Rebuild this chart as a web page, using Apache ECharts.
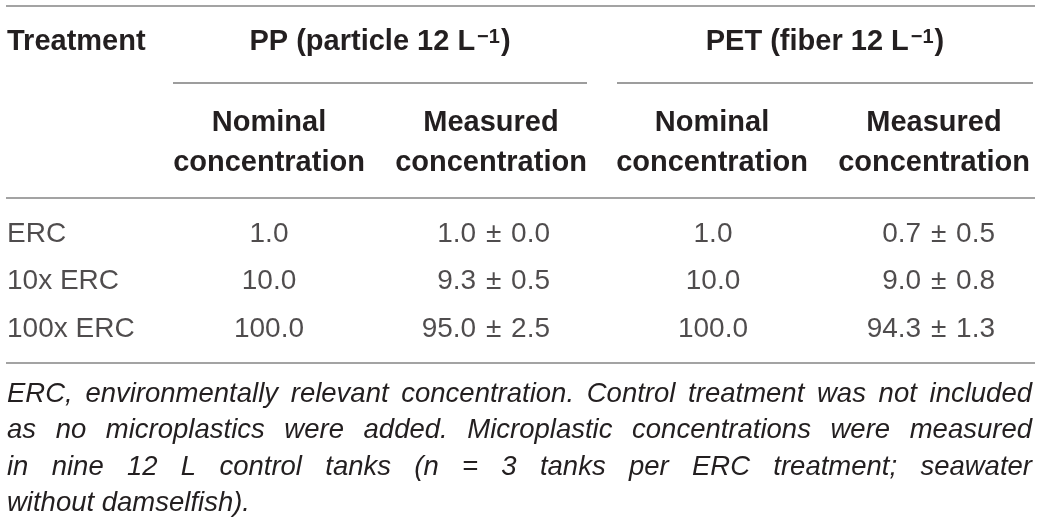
<!DOCTYPE html>
<html>
<head>
<meta charset="utf-8">
<script src="https://cdn.jsdelivr.net/npm/echarts@6/dist/echarts.min.js"></script>
<style>
html,body{margin:0;padding:0;background:#fff;}
#chart{width:1041px;height:524px;}
</style>
</head>
<body>
<div id="chart"></div>
<script>
// ---------- data ----------
const treatments = ['ERC', '10x ERC', '100x ERC'];
const ppNominal = [1.0, 10.0, 100.0];
const ppMeasuredMean = [1.0, 9.3, 95.0];
const ppMeasuredSD = [0.0, 0.5, 2.5];
const petNominal = [1.0, 10.0, 100.0];
const petMeasuredMean = [0.7, 9.0, 94.3];
const petMeasuredSD = [0.5, 0.8, 1.3];
const firstHeader = 'Treatment';
const groupHeaders = ['PP (particle 12 L', 'PET (fiber 12 L'];
const groupSup = '\u22121';
const subHeaders = [['Nominal', 'concentration'], ['Measured', 'concentration']];
const footnoteLines = [
  'ERC, environmentally relevant concentration. Control treatment was not included',
  'as no microplastics were added. Microplastic concentrations were measured',
  'in nine 12 L control tanks (n = 3 tanks per ERC treatment; seawater',
  'without damselfish).'
];

// ---------- layout / style ----------
const FONT = '"Liberation Sans", Arial, Helvetica, sans-serif';
const INK = '#231f20';
const W = 1041;
const colAnchor = [7, 269, 550, 713, 995];
const colAlign = ['left', 'center', 'right', 'center', 'right'];
const groupCenter = [380, 825];
const groupLine = [[173, 587], [617, 1033]];
const subCenter = [[269, 491], [712, 934]];

const fmt1 = v => v.toFixed(1);

const columns = [
  treatments.map(t => t),
  ppNominal.map(fmt1),
  ppMeasuredMean.map((m, i) => fmt1(m) + ' {pm|\u00b1} ' + fmt1(ppMeasuredSD[i])),
  petNominal.map(fmt1),
  petMeasuredMean.map((m, i) => fmt1(m) + ' {pm|\u00b1} ' + fmt1(petMeasuredSD[i]))
];

const series = columns.map((col, c) => ({
  type: 'scatter',
  silent: true,
  symbolSize: 0.1,
  itemStyle: { color: 'rgba(0,0,0,0)' },
  data: treatments.map((t, i) => ({ value: [colAnchor[c], t], txt: col[i] })),
  label: {
    show: true,
    position: 'inside',
    align: colAlign[c],
    verticalAlign: 'middle',
    formatter: p => p.data.txt,
    color: INK,
    fontFamily: FONT,
    fontSize: 28,
    fontWeight: 'normal',
    rich: { pm: { fontFamily: FONT, fontSize: 28, color: INK, padding: [0, 2, 0, 2] } }
  }
}));

// ---------- graphic: headers, rules, footnote ----------
const graphic = [];
const hline = (x1, x2, y, w, color) => graphic.push({
  type: 'line', silent: true,
  shape: { x1, y1: y, x2, y2: y },
  style: { stroke: color, lineWidth: w }
});
hline(6, 1035, 6, 2, '#a3a3a3');
hline(6, 1035, 198, 2, '#a3a3a3');
hline(6, 1035, 363, 2, '#a3a3a3');
groupLine.forEach(([a, b]) => hline(a, b, 83, 1.5, '#7d7d7d'));

graphic.push({
  type: 'text', silent: true,
  style: { text: firstHeader, x: 7, y: 42, align: 'left', verticalAlign: 'middle',
    fill: INK, font: 'bold 29px ' + FONT }
});
groupHeaders.forEach((h, g) => {
  graphic.push({
    type: 'text', silent: true,
    style: {
      text: '{b|' + h + '}{s|' + groupSup + '}{b|)}',
      x: groupCenter[g], y: 42, align: 'center', verticalAlign: 'middle',
      rich: {
        b: { fontFamily: FONT, fontWeight: 'bold', fontSize: 29, fill: INK, lineHeight: 34, verticalAlign: 'middle' },
        s: { fontFamily: FONT, fontWeight: 'bold', fontSize: 20, fill: INK, lineHeight: 34, verticalAlign: 'top', padding: [2, 1, 0, 2] }
      }
    }
  });
  subHeaders.forEach((sh, k) => {
    sh.forEach((line, li) => {
      graphic.push({
        type: 'text', silent: true,
        style: { text: line, x: subCenter[g][k], y: 123 + li * 40, align: 'center', verticalAlign: 'middle',
          fill: INK, font: 'bold 29px ' + FONT }
      });
    });
  });
});

// justified footnote
const FN_FONT = 'italic 27.5px ' + FONT;
const mctx = document.createElement('canvas').getContext('2d');
mctx.font = FN_FONT;
const fnLeft = 7, fnRight = 1032, fnTop = 394, fnStep = 36.5;
footnoteLines.forEach((line, li) => {
  const y = fnTop + li * fnStep;
  const last = li === footnoteLines.length - 1;
  if (last) {
    graphic.push({ type: 'text', silent: true,
      style: { text: line, x: fnLeft, y, align: 'left', verticalAlign: 'middle', fill: INK, font: FN_FONT } });
    return;
  }
  const words = line.split(' ');
  const widths = words.map(w => mctx.measureText(w).width);
  const total = widths.reduce((a, b) => a + b, 0);
  const gap = (fnRight - fnLeft - total) / (words.length - 1);
  let x = fnLeft;
  words.forEach((w, i) => {
    graphic.push({ type: 'text', silent: true,
      style: { text: w, x, y, align: 'left', verticalAlign: 'middle', fill: INK, font: FN_FONT } });
    x += widths[i] + gap;
  });
});

const chart = echarts.init(document.getElementById('chart'), null, { renderer: 'canvas' });
chart.setOption({
  animation: false,
  backgroundColor: '#ffffff',
  grid: { left: 0, right: 0, top: 210, height: 143, containLabel: false },
  xAxis: { type: 'value', min: 0, max: W, show: false },
  yAxis: { type: 'category', data: treatments, inverse: true, show: false },
  series,
  graphic
});
</script>
</body>
</html>
